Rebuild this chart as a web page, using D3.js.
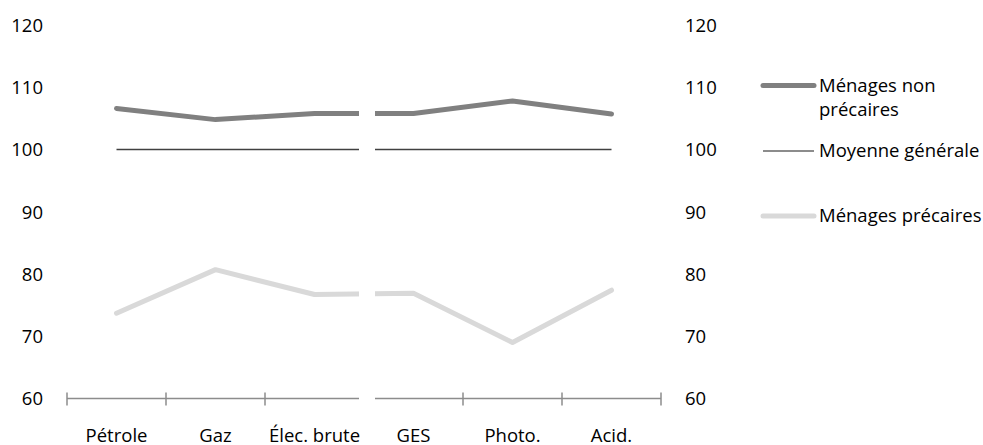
<!DOCTYPE html>
<html><head><meta charset="utf-8">
<script src="https://cdn.jsdelivr.net/npm/d3@7/dist/d3.min.js"></script>
<style>
html,body{margin:0;padding:0;background:#fff;}
text{font-family:"Open Sans",sans-serif;fill:#000;}
</style></head>
<body>
<svg id="chart" width="983" height="445"></svg>
<script>
const categories = ["Pétrole", "Gaz", "Élec. brute", "GES", "Photo.", "Acid."];
const nonPrecaires = [106.6, 104.8, 105.8, 105.8, 107.8, 105.7];
const moyenne = [100, 100, 100, 100, 100, 100];
const precaires = [73.7, 80.7, 76.7, 76.9, 69.0, 77.4];
const yTicks = [60, 70, 80, 90, 100, 110, 120];
const legendLabels = [["Ménages non", "précaires"], ["Moyenne générale"], ["Ménages précaires"]];

const svg = d3.select("#chart");
const fs = 18.5;
const x = d3.scaleBand().domain(categories).range([67, 661]);
const y = d3.scaleLinear().domain([60, 120]).range([398.5, 25]);
const cx = c => x(c) + x.bandwidth() / 2;

function styleText(sel) {
  sel.style("font-size", fs + "px").attr("fill", "#000").style("font-family", '"Open Sans",sans-serif');
}

// y labels left
const yl = svg.append("g").attr("transform", "translate(43,0)")
  .call(d3.axisLeft(y).tickValues(yTicks).tickSize(0).tickPadding(0));
yl.select(".domain").remove();
yl.selectAll("text").attr("dy", "0.35em").call(styleText);

// y labels right
const yr = svg.append("g").attr("transform", "translate(685,0)")
  .call(d3.axisRight(y).tickValues(yTicks).tickSize(0).tickPadding(0));
yr.select(".domain").remove();
yr.selectAll("text").attr("dy", "0.35em").call(styleText);

// category axis line + ticks
const y0 = y(60);
const axisG = svg.append("g");
axisG.append("line").attr("x1", x.range()[0]).attr("x2", x.range()[1])
  .attr("y1", y0).attr("y2", y0).attr("stroke", "#8c8c8c").attr("stroke-width", 1.5);
const bounds = categories.map(c => x(c)).concat([x.range()[1]]);
axisG.selectAll("line.tk").data(bounds).join("line").attr("class", "tk")
  .attr("x1", d => d).attr("x2", d => d).attr("y1", y0 - 6).attr("y2", y0 + 7)
  .attr("stroke", "#8c8c8c").attr("stroke-width", 1.5);

// category labels
const xl = svg.append("g").attr("transform", `translate(0,${y0})`)
  .call(d3.axisBottom(x).tickSize(0).tickPadding(0));
xl.select(".domain").remove();
xl.selectAll("text").attr("dy", "0").attr("y", 43).call(styleText);

// lines
const line = d3.line().x((d, i) => cx(categories[i])).y(d => y(d));
svg.append("path").datum(moyenne).attr("d", line).attr("fill", "none")
  .attr("stroke", "#404040").attr("stroke-width", 1.5);
svg.append("path").datum(nonPrecaires).attr("d", line).attr("fill", "none")
  .attr("stroke", "#808080").attr("stroke-width", 5).attr("stroke-linejoin", "round").attr("stroke-linecap", "round");
svg.append("path").datum(precaires).attr("d", line).attr("fill", "none")
  .attr("stroke", "#d9d9d9").attr("stroke-width", 5).attr("stroke-linejoin", "round").attr("stroke-linecap", "round");

// broken-axis gap between the two groups
const gapX = x(categories[3]);
svg.append("rect").attr("x", gapX - 5).attr("y", 0).attr("width", 16).attr("height", y0 + 10).attr("fill", "#fff");

// legend
const lg = svg.append("g");
const legendStyles = [
  {stroke: "#808080", w: 5, y: 85.5},
  {stroke: "#1a1a1a", w: 1.2, y: 151},
  {stroke: "#d9d9d9", w: 5, y: 216}
];
legendLabels.forEach((lab, i) => {
  const s = legendStyles[i];
  lg.append("line").attr("x1", 763).attr("x2", 814).attr("y1", s.y).attr("y2", s.y)
    .attr("stroke", s.stroke).attr("stroke-width", s.w).attr("stroke-linecap", s.w > 2 ? "round" : "butt");
  const t = lg.append("text").attr("x", 819).attr("y", s.y).call(styleText);
  lab.forEach((l, j) => t.append("tspan").attr("x", 819).attr("dy", j === 0 ? "0.35em" : "1.3em").text(l));
});
</script>
</body></html>
